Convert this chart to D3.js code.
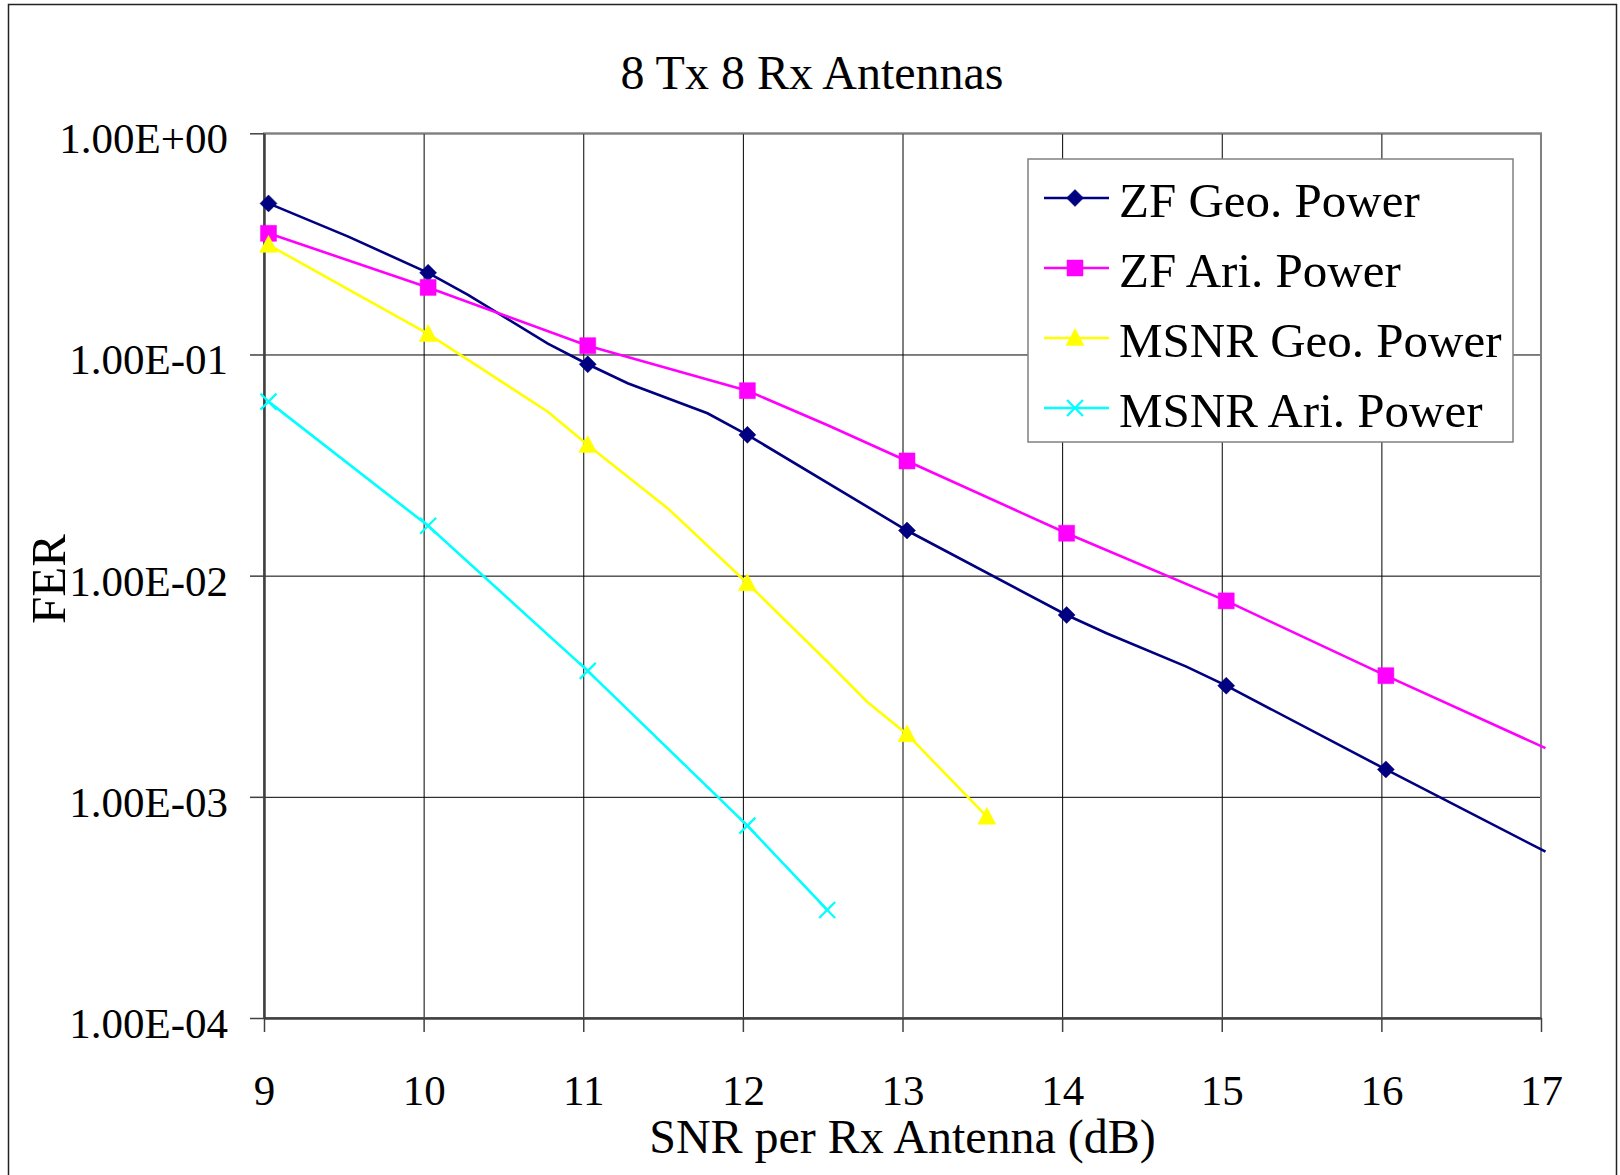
<!DOCTYPE html>
<html>
<head>
<meta charset="utf-8">
<script src="https://cdn.jsdelivr.net/npm/d3@7"></script>
<style>
  body { margin: 0; background: #fff; }
  text { font-family: "Liberation Serif", "Times New Roman", serif; fill: #000; }
</style>
</head>
<body>
<div id="chart"></div>
<script>
// values
const snrZFGeo = [9, 9.5, 10, 10.25, 10.75, 11, 11.25, 11.75, 12, 13, 14, 14.25, 14.75, 15, 16, 17]
const ferZFGeo = [0.482, 0.341, 0.234, 0.186, 0.112, 0.0903, 0.0741, 0.0542, 0.0433, 0.016, 0.00664, 0.00549, 0.00388, 0.00318, 0.00133, 0.000565]
const markZFGeo = [9, 10, 11, 12, 13, 14, 15, 16]

const snrZFAri = [9, 10, 11, 11.5, 12, 12.5, 13, 14, 15, 16, 17]
const ferZFAri = [0.353, 0.201, 0.1096, 0.0866, 0.0686, 0.048, 0.033, 0.01555, 0.00769, 0.00353, 0.00166]
const markZFAri = [9, 10, 11, 12, 13, 14, 15, 16]

const snrMGeo = [9, 10, 10.75, 11, 11.5, 12, 12.5, 12.75, 13, 13.5]
const ferMGeo = [0.313, 0.1238, 0.0551, 0.039, 0.0202, 0.00924, 0.00409, 0.00269, 0.00192, 0.000813]
const markMGeo = [9, 10, 11, 12, 13, 13.5]

const snrMAri = [9, 10, 11, 12, 12.5]
const ferMAri = [0.0612, 0.0168, 0.00371, 0.000741, 0.000308]
const markMAri = [9, 10, 11, 12, 12.5]

const seriesNames = ['ZF Geo. Power', 'ZF Ari. Power', 'MSNR Geo. Power', 'MSNR Ari. Power']
const seriesColors = ['#000080', '#ff00ff', '#ffff00', '#00ffff']
const xTicks = [9, 10, 11, 12, 13, 14, 15, 16, 17]
const yTicks = [1, 0.1, 0.01, 0.001, 0.0001]
const yTickLabels = ['1.00E+00', '1.00E-01', '1.00E-02', '1.00E-03', '1.00E-04']

const series = [
  { snr: snrZFGeo, fer: ferZFGeo, mark: markZFGeo, shape: 'diamond' },
  { snr: snrZFAri, fer: ferZFAri, mark: markZFAri, shape: 'square' },
  { snr: snrMGeo, fer: ferMGeo, mark: markMGeo, shape: 'triangle' },
  { snr: snrMAri, fer: ferMAri, mark: markMAri, shape: 'x' }
].map((s, i) => ({
  ...s,
  name: seriesNames[i],
  color: seriesColors[i],
  pts: s.snr.map((x, j) => ({ x, y: s.fer[j], m: s.mark.includes(x) }))
}))

const W = 1620, H = 1175
const plotL = 264, plotR = 1541, plotT = 133.3, plotB = 1018

const svg = d3.select('#chart')
  .append('svg')
    .attr('width', W)
    .attr('height', H)

const x = d3.scaleLinear().domain([9, 17]).range([plotL, plotR])
const y = d3.scaleLog().domain([1e-4, 1]).range([plotB, plotT])

// chart border (bottom edge falls off the page)
svg.append('rect')
  .attr('x', 8.5).attr('y', 4.5)
  .attr('width', 1608).attr('height', 1200)
  .style('fill', 'none')
  .style('stroke', '#222')
  .style('stroke-width', 1.5)

// grid
svg.append('g')
  .attr('transform', `translate(0,${plotB})`)
  .call(d3.axisBottom(x).tickValues(xTicks).tickSize(-(plotB - plotT)).tickFormat(''))
  .call(g => g.select('.domain').remove())
  .call(g => g.selectAll('line').style('stroke', '#000').style('stroke-width', 1))
svg.append('g')
  .attr('transform', `translate(${plotL},0)`)
  .call(d3.axisLeft(y).tickValues(yTicks).tickSize(-(plotR - plotL)).tickFormat(''))
  .call(g => g.select('.domain').remove())
  .call(g => g.selectAll('line').style('stroke', '#000').style('stroke-width', 1))

// plot area frame
svg.append('rect')
  .attr('x', plotL).attr('y', plotT)
  .attr('width', plotR - plotL).attr('height', plotB - plotT)
  .style('fill', 'none')
  .style('stroke', '#808080')
  .style('stroke-width', 2)

// axes
const xAxis = svg.append('g')
  .attr('transform', `translate(0,${plotB})`)
  .call(d3.axisBottom(x).tickValues(xTicks).tickSize(14).tickPadding(42).tickSizeOuter(0))
const yAxis = svg.append('g')
  .attr('transform', `translate(${plotL},0)`)
  .call(d3.axisLeft(y).tickValues(yTicks).tickSize(14).tickPadding(22).tickSizeOuter(0)
    .tickFormat((d, i) => yTickLabels[i]))

;[xAxis, yAxis].forEach(a => {
  a.select('.domain').style('stroke', '#404040').style('stroke-width', 2.5)
  a.selectAll('.tick line').style('stroke', '#404040').style('stroke-width', 1.5)
  a.selectAll('text')
    .style('font-family', '"Liberation Serif", serif')
    .style('font-size', '43px')
    .style('fill', '#000')
})
yAxis.selectAll('text').attr('dy', '0.45em')
xAxis.selectAll('text').attr('dy', '0.71em')

// markers
function markerPath(shape) {
  if (shape === 'diamond') return 'M0,-8.5L8.5,0L0,8.5L-8.5,0Z'
  if (shape === 'square') return 'M-8,-8H8V8H-8Z'
  if (shape === 'triangle') return 'M0,-9.5L9,7.5L-9,7.5Z'
  return 'M-8,-8L8,8M-8,8L8,-8'
}

const line = d3.line().x(d => x(d.x)).y(d => y(d.y))

// the original draws its series a few pixels right of the grid
const plot = svg.append('g').attr('transform', 'translate(4.5,0)')
series.forEach(s => {
  plot.append('path')
    .datum(s.pts)
    .attr('d', line)
    .style('fill', 'none')
    .style('stroke', s.color)
    .style('stroke-width', 2.6)
  plot.selectAll(null)
    .data(s.pts.filter(d => d.m))
    .enter()
    .append('path')
      .attr('transform', d => `translate(${x(d.x)},${y(d.y)})`)
      .attr('d', markerPath(s.shape))
      .style('fill', s.shape === 'x' ? 'none' : s.color)
      .style('stroke', s.color)
      .style('stroke-width', s.shape === 'x' ? 2.2 : 0.5)
})

// legend
const legend = svg.append('g')
  .attr('transform', 'translate(1028,159)')
legend.append('rect')
  .attr('width', 485).attr('height', 283)
  .style('fill', '#fff')
  .style('stroke', '#808080')
  .style('stroke-width', 1.5)
series.forEach((s, i) => {
  const row = legend.append('g').attr('transform', `translate(0,${39 + i * 70})`)
  row.append('line')
    .attr('x1', 16).attr('x2', 81)
    .style('stroke', s.color)
    .style('stroke-width', 2.6)
  row.append('path')
    .attr('transform', 'translate(47,0)')
    .attr('d', markerPath(s.shape))
    .style('fill', s.shape === 'x' ? 'none' : s.color)
    .style('stroke', s.color)
    .style('stroke-width', s.shape === 'x' ? 2.2 : 0.5)
  row.append('text')
    .attr('x', 91).attr('y', 19)
    .style('font-size', '49px')
    .text(s.name)
})

// titles
svg.append('text')
  .attr('x', 812).attr('y', 89)
  .attr('text-anchor', 'middle')
  .style('font-size', '48px')
  .text('8 Tx 8 Rx Antennas')
svg.append('text')
  .attr('x', (plotL + plotR) / 2).attr('y', 1153)
  .attr('text-anchor', 'middle')
  .style('font-size', '48px')
  .text('SNR per Rx Antenna (dB)')
svg.append('text')
  .attr('transform', 'translate(65,579) rotate(-90)')
  .attr('text-anchor', 'middle')
  .style('font-size', '49px')
  .text('FER')
</script>
</body>
</html>
